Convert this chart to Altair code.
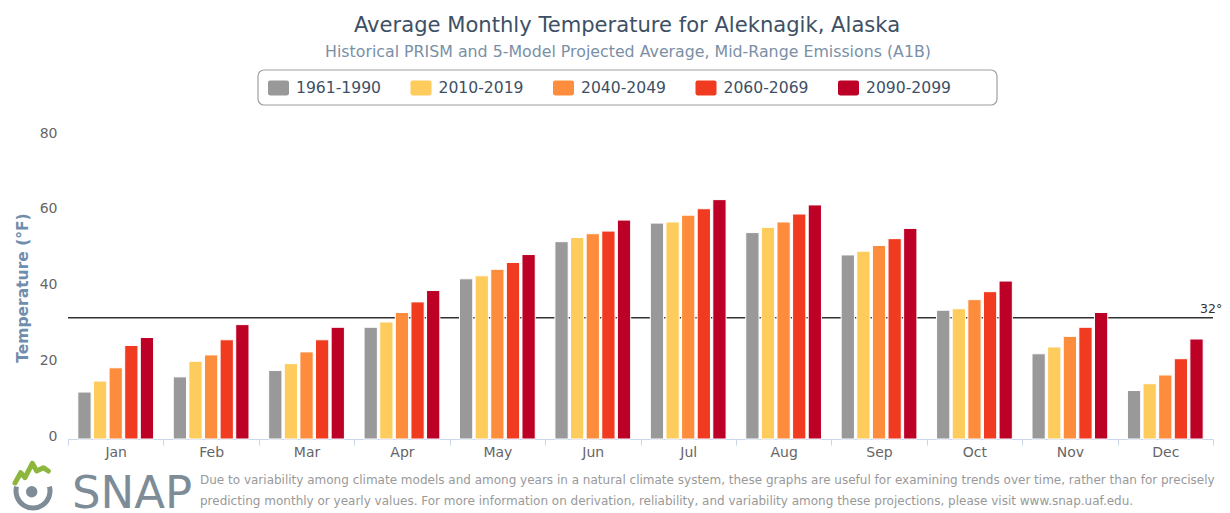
import altair as alt
import pandas as pd

months = ["Jan", "Feb", "Mar", "Apr", "May", "Jun", "Jul", "Aug", "Sep", "Oct", "Nov", "Dec"]
periods = ["1961-1990", "2010-2019", "2040-2049", "2060-2069", "2090-2099"]
colors = ["#999999", "#fecc5c", "#fd8d3c", "#f03b20", "#bd0026"]

t_1961_1990 = [12.4, 16.4, 18.1, 29.5, 42.3, 52.1, 57.0, 54.5, 48.6, 34.0, 22.5, 12.8]
t_2010_2019 = [15.3, 20.5, 19.9, 30.9, 43.1, 53.2, 57.3, 55.9, 49.6, 34.4, 24.3, 14.6]
t_2040_2049 = [18.8, 22.2, 23.0, 33.4, 44.8, 54.2, 59.1, 57.3, 51.1, 36.8, 27.1, 16.9]
t_2060_2069 = [24.7, 26.2, 26.2, 36.2, 46.6, 54.9, 60.8, 59.4, 52.9, 38.9, 29.5, 21.2]
t_2090_2099 = [26.8, 30.2, 29.5, 39.2, 48.7, 57.8, 63.2, 61.8, 55.6, 41.7, 33.4, 26.4]

y_ticks = [0, 20, 40, 60, 80]
freezing = 32

title_text = "Average Monthly Temperature for Aleknagik, Alaska"
subtitle_text = "Historical PRISM and 5-Model Projected Average, Mid-Range Emissions (A1B)"
footer_1 = ("Due to variability among climate models and among years in a natural climate system, "
            "these graphs are useful for examining trends over time, rather than for precisely")
footer_2 = ("predicting monthly or yearly values. For more information on derivation, reliability, "
            "and variability among these projections, please visit www.snap.uaf.edu.")

series = [t_1961_1990, t_2010_2019, t_2040_2049, t_2060_2069, t_2090_2099]
rows = []
for p, vals in zip(periods, series):
    for m, v in zip(months, vals):
        rows.append({"month": m, "period": p, "temp": v})
df = pd.DataFrame(rows)

FONT = "DejaVu Sans"
one = pd.DataFrame({"a": [0]})

legend_shape = ("M-0.8,-0.71H0.8Q1,-0.71,1,-0.51V0.51Q1,0.71,0.8,0.71H-0.8"
                "Q-1,0.71,-1,0.51V-0.51Q-1,-0.71,-0.8,-0.71Z")

x_enc = alt.X(
    "month:N", sort=months, title=None,
    scale=alt.Scale(paddingInner=0, paddingOuter=0),
    axis=alt.Axis(labelAngle=0, tickBand="extent", domainColor="#ccd6eb", tickColor="#ccd6eb",
                  tickSize=6, labelPadding=0, labelColor="#666666", labelFontSize=14,
                  labelFont=FONT, grid=False),
)
y_enc = alt.Y(
    "temp:Q", title="Temperature (°F)",
    scale=alt.Scale(domain=[0, 80], nice=False),
    axis=alt.Axis(values=y_ticks, domain=False, ticks=False, labelPadding=11, labelOffset=-3,
                  labelColor="#666666", labelFontSize=14, labelFont=FONT,
                  gridColor="#cccccc", titleColor="#6f8dac", titleFontSize=15.5,
                  titleFont=FONT, titleFontWeight="bold", titlePadding=9),
)

bars = alt.Chart(df).mark_bar(stroke="white", strokeWidth=1).encode(
    x=x_enc,
    y=y_enc,
    xOffset=alt.XOffset("period:N", sort=periods,
                        scale=alt.Scale(paddingInner=0.15, paddingOuter=0.63)),
    color=alt.Color("period:N", sort=periods,
                    scale=alt.Scale(domain=periods, range=colors),
                    legend=alt.Legend(title=None, orient="none", legendX=200, legendY=-59,
                                      direction="horizontal", columnPadding=29.5,
                                      symbolType=legend_shape, symbolSize=441,
                                      symbolStrokeWidth=0, labelFontSize=15.6,
                                      labelFont=FONT, labelColor="#3d5066",
                                      labelOffset=7, padding=0)),
)

rule = alt.Chart(one).mark_rule(color="#333333", strokeWidth=1.5).encode(y=alt.datum(freezing))
rule_label = alt.Chart(one).mark_text(
    text="32°", align="left", baseline="bottom", fontSize=12.5, font=FONT, color="#333333", dy=-2
).encode(x=alt.value(1132), y=alt.datum(freezing))

title_mark = alt.Chart(one).mark_text(
    text=title_text, align="center", baseline="alphabetic", fontSize=21.1, font=FONT,
    color="#3d5066"
).encode(x=alt.value(559), y=alt.value(-104))
subtitle_mark = alt.Chart(one).mark_text(
    text=subtitle_text, align="center", baseline="alphabetic", fontSize=15.8, font=FONT,
    color="#7a8fa6"
).encode(x=alt.value(560), y=alt.value(-79))

legend_box = alt.Chart(one).mark_rect(
    fill="white", fillOpacity=0, stroke="#a0a0a0", strokeWidth=1.2, cornerRadius=6
).encode(x=alt.value(190), x2=alt.value(929), y=alt.value(-66), y2=alt.value(-31))

foot1 = alt.Chart(one).mark_text(
    text=footer_1, align="left", baseline="middle", fontSize=12, font=FONT, color="#999999"
).encode(x=alt.value(132), y=alt.value(344))
foot2 = alt.Chart(one).mark_text(
    text=footer_2, align="left", baseline="middle", fontSize=12, font=FONT, color="#999999"
).encode(x=alt.value(132), y=alt.value(365))

snap = alt.Chart(one).mark_text(
    text="SNAP", align="left", baseline="alphabetic", fontSize=45, font=FONT, color="#7d8c97"
).encode(x=alt.value(4), y=alt.value(372))

zig = ("M-0.825,0.5L-0.54,-0.015L-0.325,0.235L0.04,-0.485L0.26,-0.1L0.59,-0.265L0.84,-0.1")
logo_zig = alt.Chart(one).mark_point(
    shape=zig, filled=False, stroke="#8cb63c", strokeWidth=5, size=1600, opacity=1,
    strokeCap="round", strokeJoin="round"
).encode(x=alt.value(-36.5), y=alt.value(337))
arc = "M-0.821,-0.22A0.85,0.85,0,1,0,0.821,-0.22"
logo_arc = alt.Chart(one).mark_point(
    shape=arc, filled=False, stroke="#7d8c97", strokeWidth=5, size=1600, opacity=1
).encode(x=alt.value(-35), y=alt.value(355))
logo_dot = alt.Chart(one).mark_point(
    shape="circle", filled=True, color="#7d8c97", size=130, opacity=1
).encode(x=alt.value(-36.3), y=alt.value(355.7))

chart = alt.layer(
    rule, bars, rule_label, title_mark, subtitle_mark, legend_box, foot1, foot2, snap,
    logo_zig, logo_arc, logo_dot
).properties(
    width=1145, height=303,
    autosize=alt.AutoSizeParams(type="none"),
    padding={"left": 60, "top": 128, "right": 9, "bottom": 82},
).configure_view(stroke=None)

chart.save("out.html", embed_options={"renderer": "svg", "actions": False})
